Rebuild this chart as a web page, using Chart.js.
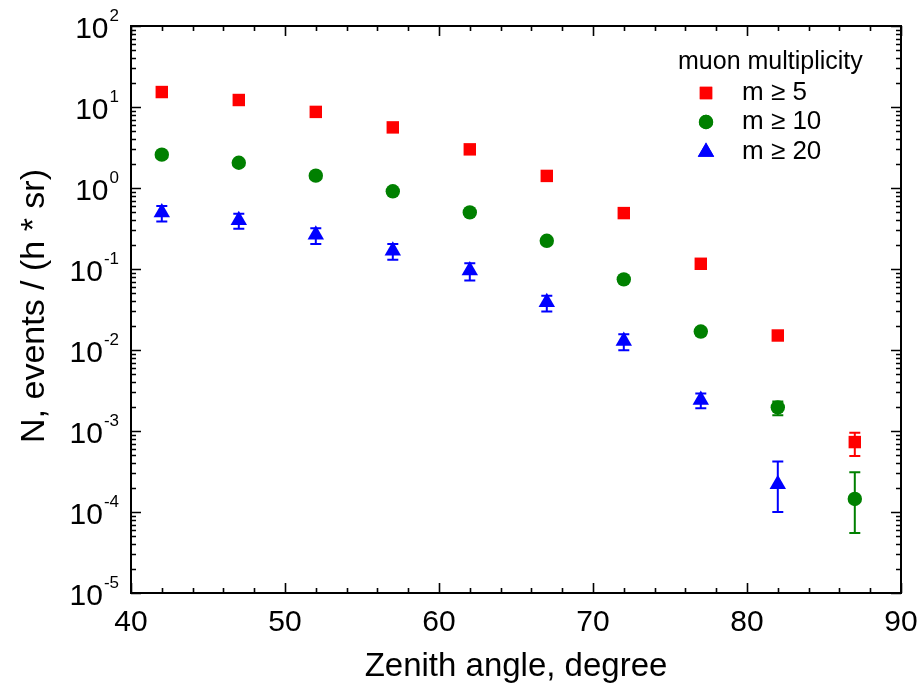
<!DOCTYPE html>
<html>
<head>
<meta charset="utf-8">
<script src="https://cdn.jsdelivr.net/npm/chart.js@4/dist/chart.umd.min.js"></script>
<style>
  html, body { margin: 0; padding: 0; background: #fff; }
  #wrap { width: 919px; height: 685px; }
</style>
</head>
<body>
<div id="wrap"><canvas id="chart" width="919" height="685"></canvas></div>
<script>
// zenith angle bins (degree)
const zenith = [42, 47, 52, 57, 62, 67, 72, 77, 82, 87];

// N, events / (h * sr)
const m5Values = [15.3, 12.2, 8.7, 5.6, 3.0, 1.41, 0.49, 0.116, 0.0151, 0.00073];
const m5ErrMinus = [0.4, 0.35, 0.25, 0.17, 0.09, 0.05, 0.02, 0.006, 0.0012, 0.00024];
const m5ErrPlus = [0.4, 0.35, 0.25, 0.17, 0.09, 0.05, 0.02, 0.006, 0.0012, 0.00022];

const m10Values = [2.58, 2.05, 1.42, 0.91, 0.50, 0.223, 0.0745, 0.0169, 0.00196, 0.000145];
const m10ErrMinus = [0.1, 0.09, 0.07, 0.05, 0.03, 0.015, 0.006, 0.0017, 0.0004, 0.00009];
const m10ErrPlus = [0.1, 0.09, 0.07, 0.05, 0.03, 0.015, 0.006, 0.0017, 0.00036, 0.000165];

const m20Values = [0.50, 0.40, 0.264, 0.168, 0.096, 0.0388, 0.0129, 0.00241, 0.00022];
const m20ErrMinus = [0.115, 0.087, 0.06, 0.038, 0.024, 0.009, 0.003, 0.0005, 0.00012];
const m20ErrPlus = [0.1, 0.08, 0.055, 0.035, 0.022, 0.008, 0.0028, 0.0005, 0.0002];

const xTicks = [40, 50, 60, 70, 80, 90];
const yExponents = [2, 1, 0, -1, -2, -3, -4, -5];

const legendTitle = 'muon multiplicity';
const seriesLabels = ['m \u2265 5', 'm \u2265 10', 'm \u2265 20'];

function toPoints(values) {
    return values.map((v, i) => ({ x: zenith[i], y: v }));
}

const series = [
    { label: seriesLabels[0], values: m5Values, minus: m5ErrMinus, plus: m5ErrPlus, color: '#ff0000', style: 'rect', radius: 8.8 },
    { label: seriesLabels[1], values: m10Values, minus: m10ErrMinus, plus: m10ErrPlus, color: '#008000', style: 'circle', radius: 7.2 },
    { label: seriesLabels[2], values: m20Values, minus: m20ErrMinus, plus: m20ErrPlus, color: '#0000ff', style: 'triangle', radius: 9.5 }
];

const FONT = '"Liberation Sans", Arial, sans-serif';

// error bars, frame, ticks, labels and legend
const decorPlugin = {
    id: 'decor',
    beforeDatasetsDraw(chart) {
        const ctx = chart.ctx;
        const xs = chart.scales.x, ys = chart.scales.y;
        ctx.save();
        ctx.lineWidth = 2;
        series.forEach(s => {
            ctx.strokeStyle = s.color;
            s.values.forEach((v, i) => {
                const px = xs.getPixelForValue(zenith[i]);
                const top = ys.getPixelForValue(v + s.plus[i]);
                const bot = ys.getPixelForValue(v - s.minus[i]);
                ctx.beginPath();
                ctx.moveTo(px, top); ctx.lineTo(px, bot);
                ctx.moveTo(px - 5.5, top); ctx.lineTo(px + 5.5, top);
                ctx.moveTo(px - 5.5, bot); ctx.lineTo(px + 5.5, bot);
                ctx.stroke();
            });
        });
        ctx.restore();
    },
    afterDraw(chart) {
        const ctx = chart.ctx;
        const a = chart.chartArea;
        const xs = chart.scales.x, ys = chart.scales.y;
        ctx.save();
        ctx.strokeStyle = '#000';
        ctx.fillStyle = '#000';

        // frame
        ctx.lineWidth = 2;
        ctx.strokeRect(a.left, a.top, a.right - a.left, a.bottom - a.top);

        // x ticks (inward, top and bottom)
        ctx.lineWidth = 1.6;
        ctx.beginPath();
        for (let v = 40; v <= 90; v += 2) {
            const px = Math.round(xs.getPixelForValue(v)) + 0.5;
            const len = v % 10 === 0 ? 10 : 5;
            ctx.moveTo(px, a.bottom); ctx.lineTo(px, a.bottom - len);
            ctx.moveTo(px, a.top); ctx.lineTo(px, a.top + len);
        }
        // y ticks (log, inward, left and right)
        for (let e = -5; e <= 2; e++) {
            for (let k = 1; k <= 9; k++) {
                if (e === 2 && k > 1) break;
                const py = Math.round(ys.getPixelForValue(k * Math.pow(10, e))) + 0.5;
                const len = k === 1 ? 10 : 5;
                ctx.moveTo(a.left, py); ctx.lineTo(a.left + len, py);
                ctx.moveTo(a.right, py); ctx.lineTo(a.right - len, py);
            }
        }
        ctx.stroke();

        // x tick labels
        ctx.font = '30px ' + FONT;
        ctx.textAlign = 'center';
        ctx.textBaseline = 'alphabetic';
        xTicks.forEach(v => {
            ctx.fillText(String(v), xs.getPixelForValue(v), 631);
        });

        // y tick labels 10^n
        yExponents.forEach(e => {
            const py = ys.getPixelForValue(Math.pow(10, e));
            const expStr = e < 0 ? '-' + Math.abs(e) : String(e);
            ctx.font = '17px ' + FONT;
            const ew = ctx.measureText(expStr).width;
            ctx.textAlign = 'left';
            ctx.fillText(expStr, 119 - ew, py - 5);
            ctx.font = '30px ' + FONT;
            ctx.textAlign = 'right';
            ctx.fillText('10', 119 - ew - 1, py + 12);
        });

        // axis titles
        ctx.font = '33px ' + FONT;
        ctx.textAlign = 'center';
        ctx.fillText('Zenith angle, degree', (a.left + a.right) / 2, 676);
        ctx.save();
        ctx.translate(44, 306);
        ctx.rotate(-Math.PI / 2);
        ctx.font = '34px ' + FONT;
        ctx.fillText('N, events / (h * sr)', 0, 0);
        ctx.restore();

        // legend
        ctx.font = '25px ' + FONT;
        ctx.textAlign = 'left';
        ctx.textBaseline = 'middle';
        ctx.fillText(legendTitle, 678, 62);
        const rows = [93, 122, 152];
        series.forEach((s, i) => {
            ctx.fillStyle = s.color;
            ctx.strokeStyle = s.color;
            Chart.helpers.drawPoint(ctx, { pointStyle: s.style, radius: s.radius, rotation: 0, borderWidth: 0 }, 706, rows[i]);
            ctx.fill();
            ctx.fillStyle = '#000';
            ctx.font = '26px ' + FONT;
            ctx.fillText(s.label, 742, rows[i]);
        });
        ctx.restore();
    }
};

new Chart(document.getElementById('chart'), {
    type: 'scatter',
    data: {
        datasets: series.map(s => ({
            label: s.label,
            data: toPoints(s.values),
            pointStyle: s.style,
            pointRadius: s.radius,
            pointHoverRadius: s.radius,
            backgroundColor: s.color,
            borderColor: s.color,
            borderWidth: 0
        }))
    },
    options: {
        responsive: false,
        animation: false,
        layout: { padding: { left: 131, top: 26, right: 18, bottom: 92 } },
        plugins: { legend: { display: false }, tooltip: { enabled: false } },
        scales: {
            x: { type: 'linear', min: 40, max: 90, display: false },
            y: { type: 'logarithmic', min: 1e-5, max: 100, display: false }
        }
    },
    plugins: [decorPlugin]
});
</script>
</body>
</html>
